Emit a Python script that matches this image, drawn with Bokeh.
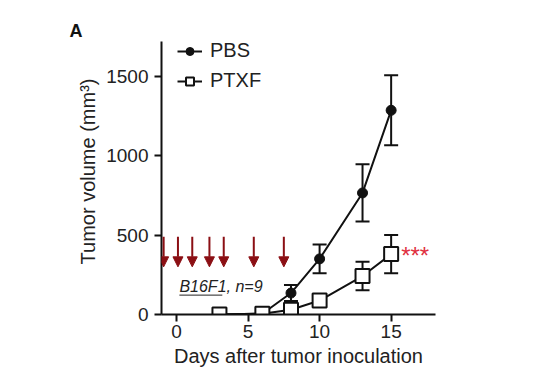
from bokeh.plotting import figure
from bokeh.models import (ColumnDataSource, Whisker, TeeHead, Arrow, NormalHead, Legend, LegendItem,
                          Label, Range1d, FixedTicker)
from bokeh.embed import file_html
from bokeh.resources import INLINE

days_pbs = [3, 6, 8, 10, 13, 15]
pbs = [0, 5, 135, 350, 765, 1285]
pbs_err = [0, 0, 50, 90, 180, 220]

days_ptxf = [3, 6, 8, 10, 13, 15]
ptxf = [0, 5, 30, 88, 242, 380]
ptxf_err = [0, 0, 0, 0, 90, 120]

dose_days = [-0.9, 0.1, 1.1, 2.3, 3.3, 5.4, 7.5]
arrow_top = 490
arrow_tip = 300

x_ticks = [0, 5, 10, 15]
y_ticks = [0, 500, 1000, 1500]
y_axis_top = 1719

FONT = "Liberation Sans"

p = figure(width=533, height=369, output_backend="svg", toolbar_location=None,
           x_range=Range1d(-1.05, 18.1), y_range=Range1d(0, 1800),
           min_border_left=161, min_border_right=98, min_border_top=28, min_border_bottom=53)
p.outline_line_color = None
p.grid.visible = False
p.background_fill_color = "white"

p.title.text = "A"
p.title.align = "left"
p.title.offset = -92
p.title.standoff = -24
p.title.text_font = FONT
p.title.text_font_size = "18px"
p.title.text_font_style = "bold"
p.title.text_color = "#111111"

for ax in (p.xaxis[0], p.yaxis[0]):
    ax.axis_line_width = 2
    ax.axis_line_color = "#111111"
    ax.major_tick_line_width = 2
    ax.major_tick_line_color = "#111111"
    ax.major_tick_out = 7
    ax.major_tick_in = 0
    ax.minor_tick_line_color = None
    ax.major_label_text_font = FONT
    ax.major_label_text_font_size = "19px"
    ax.major_label_text_color = "#222222"
    ax.axis_label_text_font = FONT
    ax.axis_label_text_font_size = "20px"
    ax.axis_label_text_font_style = "normal"
    ax.axis_label_text_color = "#222222"

p.xaxis.ticker = FixedTicker(ticks=x_ticks)
p.yaxis.ticker = FixedTicker(ticks=y_ticks)
p.yaxis.bounds = (0, y_axis_top)
p.xaxis.axis_label = "Days after tumor inoculation"
p.yaxis.axis_label = "Tumor volume (mm³)"
p.xaxis.major_label_standoff = 3
p.yaxis.major_label_standoff = 6
p.xaxis.axis_label_standoff = 4
p.yaxis.axis_label_standoff = 4

src_pbs = ColumnDataSource(dict(x=days_pbs, y=pbs,
                                lo=[v - e for v, e in zip(pbs, pbs_err)],
                                hi=[v + e for v, e in zip(pbs, pbs_err)]))
src_ptxf = ColumnDataSource(dict(x=days_ptxf, y=ptxf,
                                 lo=[v - e for v, e in zip(ptxf, ptxf_err)],
                                 hi=[v + e for v, e in zip(ptxf, ptxf_err)]))

for src in (src_pbs, src_ptxf):
    w = Whisker(source=src, base="x", lower="lo", upper="hi", line_color="#111111", line_width=2,
                upper_head=TeeHead(size=14, line_width=2, line_color="#111111"),
                lower_head=TeeHead(size=14, line_width=2, line_color="#111111"))
    p.add_layout(w)

l1 = p.line("x", "y", source=src_pbs, line_color="#111111", line_width=2)
s1 = p.scatter("x", "y", source=src_pbs, marker="circle", size=10, fill_color="#111111", line_color="#111111")
l2 = p.line("x", "y", source=src_ptxf, line_color="#111111", line_width=2)
s2 = p.scatter("x", "y", source=src_ptxf, marker="square", size=14, fill_color="white",
               line_color="#111111", line_width=2)

arrow_src = ColumnDataSource(dict(x0=dose_days, y0=[arrow_top] * len(dose_days),
                                  x1=dose_days, y1=[arrow_tip] * len(dose_days)))
p.add_layout(Arrow(source=arrow_src, x_start="x0", y_start="y0", x_end="x1", y_end="y1",
                   line_color="#8b0f14", line_width=2,
                   end=NormalHead(size=10, fill_color="#8b0f14", line_color="#8b0f14")))

p.add_layout(Label(x=15.7, y=370, text="***", text_color="#e03040", text_font=FONT,
                   text_font_size="24px", text_baseline="middle"))
p.add_layout(Label(x=0.2, y=175, text="B16F1, n=9", text_color="#222222", text_font=FONT,
                   text_font_style="italic", text_font_size="16px", text_baseline="middle"))
p.segment(x0=[0.2], y0=[122], x1=[3.2], y1=[122], line_color="#222222", line_width=1)

legend = Legend(items=[LegendItem(label="PBS", renderers=[l1, s1]),
                       LegendItem(label="PTXF", renderers=[l2, s2])],
                location=(16, 222), padding=0, margin=0, spacing=7, border_line_color=None,
                background_fill_alpha=0, glyph_width=25, glyph_height=20, label_height=20,
                label_standoff=8, label_text_font=FONT, label_text_font_size="20px",
                label_text_color="#222222")
p.add_layout(legend)

open("out.html", "w").write(file_html(p, INLINE))
